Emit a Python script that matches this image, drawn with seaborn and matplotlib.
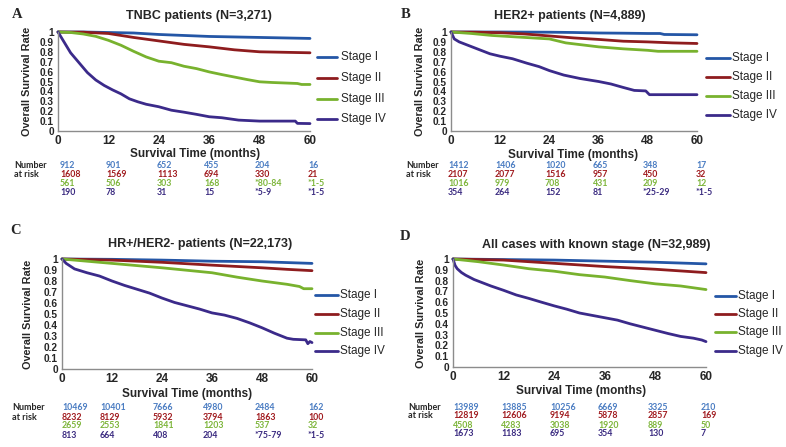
import matplotlib
matplotlib.use("Agg")
import matplotlib.pyplot as plt
from matplotlib.lines import Line2D
import seaborn as sns
import pandas as pd

sns.set_theme(style="white")
plt.rcParams['font.family'] = ['Liberation Sans', 'DejaVu Sans']

W, H = 786, 447

stages = ["Stage I", "Stage II", "Stage III", "Stage IV"]
line_colors = ["#2456a6", "#8e1c1e", "#78b22e", "#3b2a8a"]
risk_colors = ["#4a7cc2", "#a01a1e", "#7db53a", "#3a2a80"]
xticks = [0, 12, 24, 36, 48, 60]

# ---------- Panel A: TNBC ----------
A_I_t = [0, 6, 12, 18, 24, 30, 36, 42, 48, 54, 60]
A_I_s = [1, 1, 0.995, 0.99, 0.975, 0.965, 0.955, 0.95, 0.945, 0.94, 0.935]
A_II_t = [0, 6, 12, 18, 24, 30, 36, 42, 48, 54, 60]
A_II_s = [1, 0.998, 0.985, 0.945, 0.91, 0.875, 0.85, 0.82, 0.80, 0.795, 0.79]
A_III_t = [0, 3, 6, 9, 12, 15, 18, 21, 24, 27, 30, 33, 36, 39, 42, 45, 48, 51, 54, 57, 58, 60]
A_III_s = [1, 0.995, 0.98, 0.956, 0.916, 0.866, 0.805, 0.748, 0.705, 0.69, 0.654, 0.63,
           0.597, 0.57, 0.545, 0.52, 0.497, 0.49, 0.485, 0.48, 0.47, 0.47]
A_IV_t = [0, 1, 3, 5, 7, 9, 11, 13, 15, 17, 19, 21, 24, 27, 30, 33, 36, 39, 43, 48, 54, 56.5, 57, 60]
A_IV_s = [1, 0.93, 0.79, 0.69, 0.59, 0.515, 0.46, 0.415, 0.375, 0.325, 0.295, 0.27, 0.245,
          0.21, 0.19, 0.168, 0.144, 0.134, 0.11, 0.10, 0.10, 0.10, 0.077, 0.075]
A_risk = [["912", "901", "652", "455", "204", "16"],
          ["1608", "1569", "1113", "694", "330", "21"],
          ["561", "506", "303", "168", "*80-84", "*1-5"],
          ["190", "78", "31", "15", "*5-9", "*1-5"]]

# ---------- Panel B: HER2+ ----------
B_I_t = [0, 12, 24, 30, 36, 42, 48, 51, 52, 60]
B_I_s = [1, 1, 0.998, 0.995, 0.99, 0.988, 0.985, 0.985, 0.975, 0.972]
B_II_t = [0, 6, 12, 18, 24, 30, 36, 42, 48, 54, 60]
B_II_s = [1, 0.998, 0.993, 0.98, 0.96, 0.94, 0.925, 0.907, 0.90, 0.89, 0.884]
B_III_t = [0, 5, 10, 16, 20, 24, 28, 32, 36, 42, 48, 50.5, 60]
B_III_s = [1, 0.985, 0.965, 0.95, 0.94, 0.93, 0.89, 0.87, 0.85, 0.83, 0.815, 0.805, 0.805]
B_IV_t = [0, 0.8, 2, 4.5, 7, 9.5, 12, 15, 18.5, 21.5, 24, 27.5, 31.5, 36, 39, 42, 44.7, 47.5, 48.4, 60]
B_IV_s = [1, 0.93, 0.9, 0.86, 0.82, 0.78, 0.755, 0.73, 0.685, 0.65, 0.61, 0.565, 0.53, 0.50,
          0.475, 0.44, 0.41, 0.405, 0.367, 0.367]
B_risk = [["1412", "1406", "1020", "665", "348", "17"],
          ["2107", "2077", "1516", "957", "450", "32"],
          ["1016", "979", "708", "431", "209", "12"],
          ["354", "264", "152", "81", "*25-29", "*1-5"]]

# ---------- Panel C: HR+/HER2- ----------
C_I_t = [0, 12, 24, 36, 48, 60]
C_I_s = [1, 0.997, 0.99, 0.98, 0.975, 0.96]
C_II_t = [0, 12, 24, 36, 48, 54, 60]
C_II_s = [1, 0.99, 0.97, 0.944, 0.92, 0.906, 0.894]
C_III_t = [0, 12, 24, 36, 42, 48, 54, 57, 58, 60]
C_III_s = [1, 0.96, 0.92, 0.875, 0.835, 0.80, 0.77, 0.75, 0.73, 0.73]
C_IV_t = [0, 1, 3, 6, 9, 12, 15, 18, 21, 24, 27, 30, 33, 36, 39, 42, 45, 48, 51, 54, 55.5,
          58.5, 59, 59.5, 60]
C_IV_s = [1, 0.96, 0.91, 0.875, 0.845, 0.80, 0.76, 0.725, 0.69, 0.645, 0.605, 0.575, 0.545,
          0.51, 0.49, 0.46, 0.42, 0.375, 0.325, 0.28, 0.27, 0.265, 0.23, 0.25, 0.24]
C_risk = [["10469", "10401", "7666", "4980", "2484", "162"],
          ["8232", "8129", "5932", "3794", "1863", "100"],
          ["2659", "2553", "1841", "1203", "537", "32"],
          ["813", "664", "408", "204", "*75-79", "*1-5"]]

# ---------- Panel D: All cases ----------
D_I_t = [0, 12, 24, 36, 48, 60]
D_I_s = [1, 0.995, 0.99, 0.98, 0.97, 0.955]
D_II_t = [0, 12, 24, 36, 48, 60]
D_II_s = [1, 0.99, 0.96, 0.93, 0.905, 0.874]
D_III_t = [0, 6, 12, 18, 24, 30, 36, 42, 48, 54, 60]
D_III_s = [1, 0.975, 0.944, 0.91, 0.887, 0.855, 0.833, 0.80, 0.77, 0.75, 0.717]
D_IV_t = [0, 0.5, 1, 2, 3, 5, 7, 9, 12, 15, 18, 21, 24, 27, 30, 33, 36, 39, 42, 45, 48, 51,
          54, 57, 59, 60]
D_IV_s = [1, 0.94, 0.91, 0.875, 0.85, 0.81, 0.78, 0.75, 0.71, 0.667, 0.635, 0.60, 0.566,
          0.535, 0.50, 0.478, 0.456, 0.434, 0.40, 0.37, 0.34, 0.31, 0.283, 0.267, 0.25, 0.235]
D_risk = [["13989", "13885", "10256", "6669", "3325", "210"],
          ["12819", "12606", "9194", "5878", "2857", "169"],
          ["4508", "4283", "3038", "1920", "889", "50"],
          ["1673", "1183", "695", "354", "130", "7"]]

fig = plt.figure(figsize=(W / 100, H / 100), dpi=100)
fig.patch.set_facecolor("white")


def fx(px):
    return px / W


def fy(py):
    return 1 - py / H


panels = [
    dict(letter="A", title="TNBC patients (N=3,271)",
         curves=[(A_I_t, A_I_s), (A_II_t, A_II_s), (A_III_t, A_III_s), (A_IV_t, A_IV_s)],
         risk=A_risk, box=(58, 310, 32, 131), letter_xy=(17, 14), title_xy=(199, 16),
         xlab_xy=(195, 154), ylab_x=27, leg=(317, 337, 341, [57, 78, 99, 119]),
         num_xy=(14, 165), rows=[165, 174.3, 183.7, 192.7], cols=[60, 106, 157, 204, 255, 308]),
    dict(letter="B", title="HER2+ patients (N=4,889)",
         curves=[(B_I_t, B_I_s), (B_II_t, B_II_s), (B_III_t, B_III_s), (B_IV_t, B_IV_s)],
         risk=B_risk, box=(451, 697, 32, 131), letter_xy=(406, 14), title_xy=(570, 16),
         xlab_xy=(573, 155), ylab_x=420, leg=(706, 730, 732, [58, 77, 96, 115]),
         num_xy=(406, 165.7), rows=[165.7, 174.3, 183.7, 192.7],
         cols=[448, 495, 545, 593, 643, 696]),
    dict(letter="C", title="HR+/HER2- patients (N=22,173)",
         curves=[(C_I_t, C_I_s), (C_II_t, C_II_s), (C_III_t, C_III_s), (C_IV_t, C_IV_s)],
         risk=C_risk, box=(62, 312, 259, 369), letter_xy=(16, 231), title_xy=(200, 244),
         xlab_xy=(187, 394), ylab_x=28, leg=(315, 338, 340, [295, 314, 333, 351]),
         num_xy=(12, 407), rows=[407, 417, 426, 435], cols=[62, 100, 153, 203, 255, 308]),
    dict(letter="D", title="All cases with known stage (N=32,989)",
         curves=[(D_I_t, D_I_s), (D_II_t, D_II_s), (D_III_t, D_III_s), (D_IV_t, D_IV_s)],
         risk=D_risk, box=(453, 706, 259, 367), letter_xy=(405, 237), title_xy=(596, 245),
         xlab_xy=(581, 391), ylab_x=421, leg=(715, 736, 738, [296, 314, 332, 351]),
         num_xy=(408, 407), rows=[407, 416, 425, 434], cols=[453, 501, 550, 598, 648, 701]),
]

for p in panels:
    l, r, t, b = p["box"]
    ax = fig.add_axes([fx(l), fy(b), (r - l) / W, (b - t) / H])
    for (tt, ss), col, name in zip(p["curves"], line_colors, stages):
        df = pd.DataFrame({"Month": tt, "Survival": ss})
        sns.lineplot(data=df, x="Month", y="Survival", ax=ax, color=col, lw=2.0,
                     estimator=None, clip_on=False)
    ax.set_xlim(0, 60)
    ax.set_ylim(0, 1)
    ax.set_xticks(xticks)
    ax.set_xticklabels([str(v) for v in xticks], fontsize=8.5, fontweight="bold")
    yt = [i / 10 for i in range(11)]
    ax.set_yticks(yt)
    ax.set_yticklabels(["0"] + [f"{v:.1f}" for v in yt[1:-1]] + ["1"],
                       fontsize=7.3, fontweight="bold")
    ax.tick_params(axis="x", length=0, pad=3)
    ax.tick_params(axis="y", length=0, pad=3)
    for s in ["top", "right"]:
        ax.spines[s].set_visible(False)
    for s in ["left", "bottom"]:
        ax.spines[s].set_color("#8c8c8c")
        ax.spines[s].set_linewidth(1.0)
    ax.set_xlabel("")
    ax.set_ylabel("")
    ax.set_facecolor("white")

    fig.text(fx(p["letter_xy"][0]), fy(p["letter_xy"][1]), p["letter"], ha="center",
             va="center", fontsize=10.5, fontweight="bold", family="Liberation Serif")
    fig.text(fx(p["title_xy"][0]), fy(p["title_xy"][1]), p["title"], ha="center",
             va="center", fontsize=9, fontweight="bold")
    fig.text(fx(p["xlab_xy"][0]), fy(p["xlab_xy"][1]), "Survival Time (months)", ha="center",
             va="center", fontsize=8.5, fontweight="bold")
    fig.text(fx(p["ylab_x"]), fy((t + b) / 2), "Overall Survival Rate", ha="center",
             va="center", rotation=90, fontsize=7.8, fontweight="bold")

    x0, x1, xt, rows = p["leg"]
    for yy, col, name in zip(rows, line_colors, stages):
        fig.add_artist(Line2D([fx(x0), fx(x1)], [fy(yy), fy(yy)], color=col, lw=2.0))
        fig.text(fx(xt), fy(yy), name, ha="left", va="center", fontsize=8.5)

    nx, ny = p["num_xy"]
    fig.text(fx(nx), fy(p["rows"][0]), "Number", ha="left", va="center", fontsize=6.5,
             fontweight="bold", family="Lato")
    fig.text(fx(nx), fy(p["rows"][1]), "at risk", ha="left", va="center", fontsize=6.5,
             fontweight="bold", family="Lato")
    for ri, (vals, col) in enumerate(zip(p["risk"], risk_colors)):
        for cx, v in zip(p["cols"], vals):
            fig.text(fx(cx), fy(p["rows"][ri]), v, ha="left", va="center", fontsize=6.3,
                     fontweight="bold", color=col, family="Lato")

fig.savefig("out.png", dpi=100, facecolor="white")
